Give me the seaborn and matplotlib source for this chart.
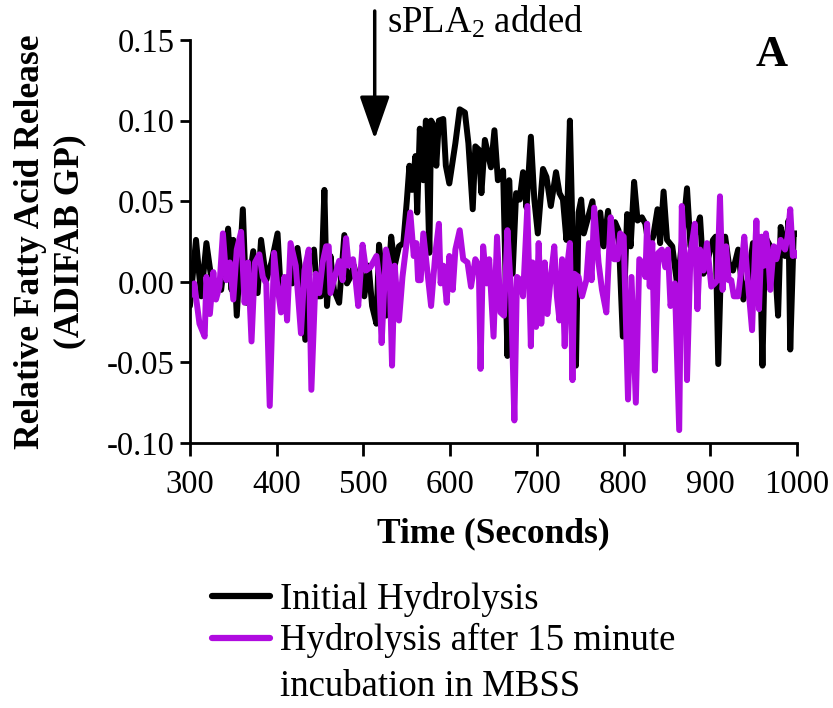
import numpy as np
import pandas as pd
import matplotlib
matplotlib.use("Agg")
import matplotlib.pyplot as plt
import seaborn as sns

# ---------------- data ----------------
initial_t = [300, 307, 313, 319, 326, 336, 344, 348, 350, 354, 361, 365, 373, 378, 382, 388, 394, 401, 405,
             413, 418, 424, 428, 433, 437, 443, 447, 451, 455, 458, 462, 466, 472, 478, 481, 485, 489, 493,
             497, 501, 506, 510, 515, 518, 522, 526, 532, 536, 541, 546, 550, 553, 556, 560, 562, 565, 569,
             572, 576, 578, 581, 584, 587, 592, 595, 599, 606, 611, 617, 621, 626, 629, 633, 636, 640, 647,
             651, 655, 661, 666, 668, 672, 676, 680, 684, 688, 693, 697, 701, 707, 711, 716, 722, 726, 730,
             734, 738, 741, 745, 748, 751, 754, 759, 764, 769, 773, 777, 782, 786, 790, 794, 799, 804, 808,
             812, 816, 821, 825, 829, 834, 839, 842, 846, 850, 856, 862, 867, 873, 877, 881, 888, 892, 897,
             903, 906, 909, 913, 917, 921, 926, 932, 938, 944, 949, 953, 957, 960, 963, 969, 974, 978, 981,
             986, 990, 992, 996, 1000]
initial_v = [-0.015, 0.026, -0.009, 0.024, -0.003, -0.005, 0.033, -0.005, 0.026, -0.021, 0.045, -0.013,
             0.019, -0.007, 0.026, 0.001, 0.012, 0.030, -0.009, 0.001, -0.001, 0.021, 0.003, -0.036, 0.011,
             0.020, -0.009, -0.009, 0.057, -0.015, 0.016, -0.005, -0.013, 0.029, -0.001, 0.003, 0.010,
             0.001, 0.007, -0.009, 0.010, -0.015, -0.026, 0.023, 0.003, -0.021, 0.028, 0.010, 0.022, 0.024,
             0.050, 0.072, 0.057, 0.078, 0.043, 0.095, 0.063, 0.100, 0.018, 0.100, 0.097, 0.072, 0.100,
             0.101, 0.072, 0.061, 0.086, 0.107, 0.105, 0.086, 0.045, 0.084, 0.082, 0.055, 0.088, 0.071,
             0.094, 0.063, 0.069, -0.046, 0.063, 0.005, 0.055, 0.051, 0.068, 0.046, 0.090, 0.051, 0.030,
             0.070, 0.065, 0.047, 0.068, 0.055, 0.051, 0.026, 0.100, 0.030, -0.052, 0.043, 0.051, 0.030,
             0.040, 0.050, 0.016, 0.043, 0.022, 0.044, 0.022, 0.037, 0.032, -0.034, 0.042, 0.022, 0.062,
             0.038, 0.040, 0.036, 0.022, 0.028, 0.045, 0.024, 0.056, 0.026, 0.022, -0.003, 0.024, 0.058,
             0.022, 0.027, 0.040, 0.005, 0.014, 0.026, 0.028, -0.051, 0.026, 0.028, 0.012, 0.007, 0.020,
             -0.011, 0.003, 0.024, 0.011, 0.018, -0.052, 0.028, 0.022, 0.014, -0.021, 0.034, 0.016, 0.038,
             -0.042, 0.030, 0.030]

after_t = [300, 305, 311, 317, 319, 323, 327, 330, 334, 338, 342, 346, 350, 354, 359, 363, 367, 371, 375,
           380, 384, 388, 392, 397, 400, 405, 409, 412, 416, 422, 428, 432, 437, 440, 445, 449, 453, 457,
           460, 462, 466, 472, 476, 480, 483, 488, 491, 494, 499, 503, 508, 515, 518, 521, 526, 530, 533,
           536, 541, 545, 554, 558, 561, 563, 566, 569, 573, 578, 583, 587, 589, 592, 596, 599, 603, 606,
           611, 615, 620, 624, 629, 633, 635, 638, 642, 645, 650, 654, 658, 662, 666, 670, 674, 677, 681,
           684, 689, 693, 695, 699, 702, 705, 709, 712, 716, 720, 723, 726, 729, 732, 735, 738, 741, 743,
           748, 752, 757, 760, 763, 766, 771, 775, 780, 785, 789, 793, 796, 800, 805, 809, 814, 818, 821,
           825, 827, 830, 833, 836, 840, 844, 848, 851, 854, 859, 864, 867, 871, 873, 877, 882, 885, 888,
           892, 896, 901, 905, 908, 911, 914, 918, 921, 924, 927, 932, 936, 939, 943, 948, 950, 953, 956,
           959, 962, 964, 967, 969, 973, 976, 981, 986, 989, 992, 995, 998, 1000]
after_v = [-0.009, -0.001, -0.026, -0.034, 0.003, -0.020, 0.006, -0.011, -0.003, 0.030, 0.001, 0.012,
           -0.011, 0.020, 0.031, -0.013, 0.012, -0.037, 0.012, 0.017, 0.003, -0.001, -0.077, 0.018, 0.001,
           -0.019, 0.003, -0.024, 0.024, 0.010, -0.032, 0.007, 0.020, -0.067, 0.005, -0.007, 0.012, 0.022,
           0.022, -0.007, 0.001, 0.013, 0.001, 0.027, 0.010, 0.014, 0.001, -0.015, 0.023, 0.007, 0.009,
           0.016, 0.003, -0.038, 0.020, 0.010, -0.052, 0.010, -0.024, 0.003, 0.043, 0.016, 0.024, 0.001,
           0.001, 0.030, 0.010, -0.015, 0.018, 0.036, -0.001, 0.010, -0.013, 0.016, -0.005, 0.020, 0.032,
           0.014, 0.012, -0.003, 0.014, 0.010, -0.054, 0.022, -0.001, 0.014, -0.034, 0.028, -0.019, -0.021,
           0.032, -0.005, -0.086, 0.003, 0.001, -0.009, 0.047, -0.040, 0.012, -0.028, 0.024, -0.026, 0.012,
           -0.020, 0.003, 0.022, -0.009, -0.024, 0.014, -0.040, 0.010, 0.024, -0.061, 0.005, 0.003, -0.009,
           0.001, 0.024, 0.001, 0.046, 0.012, -0.005, -0.019, 0.040, 0.014, 0.014, 0.030, 0.028, -0.073,
           0.003, -0.075, 0.014, 0.012, 0.003, 0.036, -0.003, 0.024, -0.055, 0.018, 0.020, 0.009, 0.020,
           -0.015, -0.001, -0.092, 0.047, 0.009, -0.061, 0.018, 0.036, -0.017, 0.020, 0.007, 0.024, -0.003,
           -0.001, 0.001, 0.053, -0.005, 0.022, 0.001, 0.001, -0.009, -0.009, 0.010, 0.028, 0.001, -0.030,
           0.001, 0.038, -0.017, 0.028, 0.010, 0.030, 0.014, -0.005, 0.022, 0.014, 0.026, 0.020, 0.028,
           0.045, 0.016, 0.018, 0.016]

series_names = ["Initial Hydrolysis", "Hydrolysis after 15 minute\nincubation in MBSS"]
series_colors = ["#000000", "#B00BE0"]
x_ticks = [300, 400, 500, 600, 700, 800, 900, 1000]
y_ticks = [-0.10, -0.05, 0.00, 0.05, 0.10, 0.15]
y_tick_labels = ["-0.10", "-0.05", "0.00", "0.05", "0.10", "0.15"]
arrow_time = 513

df = pd.concat([
    pd.DataFrame({"Time": initial_t, "Value": initial_v, "Series": series_names[0]}),
    pd.DataFrame({"Time": after_t, "Value": after_v, "Series": series_names[1]}),
], ignore_index=True)

# ---------------- style ----------------
sns.set_style("ticks")
plt.rcParams["font.family"] = ["Liberation Serif", "DejaVu Serif"]
plt.rcParams["mathtext.default"] = "regular"
for key in ["text.color", "axes.labelcolor", "xtick.color", "ytick.color", "axes.edgecolor"]:
    plt.rcParams[key] = "black"

fig = plt.figure(figsize=(8.33, 7.08), dpi=100)
ax = fig.add_axes([0.228, 0.3743, 0.729, 0.5692])

sns.lineplot(data=df, x="Time", y="Value", hue="Series", hue_order=series_names,
             palette=dict(zip(series_names, series_colors)), estimator=None,
             linewidth=4.3, ax=ax, legend=True)

ax.set_xlim(300, 1000)
ax.set_ylim(-0.10, 0.15)
ax.set_xticks(x_ticks)
ax.set_yticks(y_ticks)
ax.set_yticklabels(y_tick_labels)
for s in ["top", "right"]:
    ax.spines[s].set_visible(False)
for s in ["left", "bottom"]:
    ax.spines[s].set_linewidth(2.0)
ax.tick_params(axis="x", length=9, width=2.0, labelsize=23.5, pad=10)
ax.tick_params(axis="y", length=7, width=2.0, labelsize=23.5, pad=4)

ax.set_xlabel("Time (Seconds)", fontsize=25.5, fontweight="bold")
ax.xaxis.set_label_coords(0.5, -0.185)
ax.set_ylabel("Relative Fatty Acid Release\n(ADIFAB GP)", fontsize=25.5, fontweight="bold",
              linespacing=1.25)
ax.yaxis.set_label_coords(-0.17, 0.5)

# annotation arrow
ax.annotate("", xy=(arrow_time, 0.0885), xytext=(arrow_time, 0.168),
            arrowprops=dict(arrowstyle="-|>,head_length=1.2,head_width=0.42", lw=2.5,
                            color="black", mutation_scale=22, shrinkA=0, shrinkB=0),
            annotation_clip=False)
fig.text(387 / 833, 1 - 22 / 708, "sPLA$_2$ added", fontsize=26.5, ha="left", va="center")
fig.text(772 / 833, 1 - 55 / 708, "A", fontsize=32, fontweight="bold", ha="center", va="center")

# legend
handles, labels = ax.get_legend_handles_labels()
ax.get_legend().remove()
for h in handles:
    h.set_linewidth(4.5)
leg = fig.legend(handles, ["Initial Hydrolysis", "Hydrolysis after 15 minute"],
                 loc="upper left", bbox_to_anchor=(212 / 833, 1 - 582 / 708),
                 frameon=False, fontsize=26.5, handlelength=1.58, handletextpad=0.27,
                 labelspacing=0.17, borderaxespad=0, borderpad=0)
fig.text(280 / 833, 1 - 687 / 708, "incubation in MBSS", fontsize=26.5, ha="left", va="center")

fig.savefig("out.png", dpi=100)
